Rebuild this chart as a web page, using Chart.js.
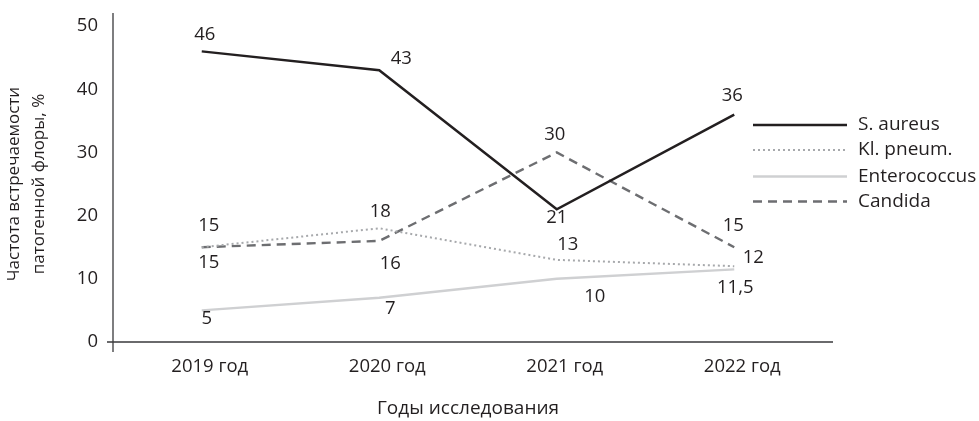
<!DOCTYPE html>
<html>
<head>
<meta charset="utf-8">
<script src="https://cdn.jsdelivr.net/npm/chart.js@4"></script>
<style>
  html, body { margin: 0; padding: 0; background: #fff; }
  #wrap { width: 979px; height: 421px; }
</style>
</head>
<body>
<div id="wrap"><canvas id="c" width="979" height="421"></canvas></div>
<script>
// Frequency of pathogenic flora by study year, %
const years = ['2019 год', '2020 год', '2021 год', '2022 год'];
const sAureus = [46, 43, 21, 36];
const klPneum = [15, 18, 13, 12];
const enterococcus = [5, 7, 10, 11.5];
const candida = [15, 16, 30, 15];
const seriesNames = ['S. aureus', 'Kl. pneum.', 'Enterococcus', 'Candida'];
const yTicks = [0, 10, 20, 30, 40, 50];

const FONT = "'Open Sans', 'DejaVu Sans', sans-serif";
const INK = '#231f20';
const TEXT_SIZE = 18.5;

// where each value label sits relative to its point (dx, dy in px)
const labelShift = [
  [[3, -17], [22, -12], [0, 8], [-2, -19]],
  [[7, -21], [1, -17], [11, -15], [19, -8]],
  [[5, 8], [11, 11], [38, 18], [1, 18]],
  [[7, 16], [11, 23], [-2, -18], [-1, -21]]
];

const styles = [
  { color: '#231f20', width: 2.5, dash: [] },
  { color: '#a7a9ac', width: 2, dash: [2, 3] },
  { color: '#cfd0d2', width: 2.4, dash: [] },
  { color: '#6d6e71', width: 2.4, dash: [9, 6] }
];

const seriesValues = [sAureus, klPneum, enterococcus, candida];

const datasets = seriesValues.map((vals, i) => ({
  label: seriesNames[i],
  data: vals,
  borderColor: styles[i].color,
  borderWidth: styles[i].width,
  borderDash: styles[i].dash,
  borderCapStyle: 'butt',
  pointRadius: 0,
  pointHoverRadius: 0,
  tension: 0,
  fill: false,
  clip: false
}));

const fmt = v => String(v).replace('.', ',');

const decorations = {
  id: 'decorations',
  beforeDatasetsDraw(chart) {
    const { ctx, chartArea, scales } = chart;
    const y0 = scales.y.getPixelForValue(0);
    ctx.save();
    ctx.strokeStyle = '#3a3a3c';
    ctx.lineWidth = 1.3;
    ctx.beginPath();
    ctx.moveTo(chartArea.left, 13);
    ctx.lineTo(chartArea.left, 352);
    ctx.moveTo(chartArea.left - 6, y0);
    ctx.lineTo(833, y0);
    ctx.stroke();
    ctx.restore();
  },
  afterDatasetsDraw(chart) {
    const { ctx } = chart;
    ctx.save();
    ctx.font = TEXT_SIZE + 'px ' + FONT;
    ctx.fillStyle = INK;
    ctx.textAlign = 'center';
    ctx.textBaseline = 'middle';
    chart.data.datasets.forEach((ds, i) => {
      const meta = chart.getDatasetMeta(i);
      meta.data.forEach((pt, j) => {
        const [dx, dy] = labelShift[i][j];
        ctx.fillText(fmt(ds.data[j]), pt.x + dx, pt.y + dy);
      });
    });

    // legend
    const lx0 = 753, lx1 = 847, tx = 858;
    const rows = [125, 150, 176.5, 201.5];
    ctx.font = '19px ' + FONT;
    chart.data.datasets.forEach((ds, i) => {
      const y = rows[i];
      ctx.strokeStyle = ds.borderColor;
      ctx.lineWidth = ds.borderWidth;
      ctx.setLineDash(ds.borderDash);
      ctx.beginPath();
      ctx.moveTo(lx0, y);
      ctx.lineTo(lx1, y);
      ctx.stroke();
      ctx.setLineDash([]);
      ctx.textAlign = 'left';
      ctx.fillStyle = INK;
      ctx.fillText(ds.label, tx, y);
    });
    ctx.restore();
  }
};

new Chart(document.getElementById('c'), {
  type: 'line',
  data: { labels: years, datasets },
  options: {
    responsive: false,
    animation: false,
    devicePixelRatio: 1,
    layout: { padding: { left: 0, top: 25, right: 156, bottom: 0 } },
    plugins: {
      legend: { display: false },
      tooltip: { enabled: false }
    },
    scales: {
      x: {
        type: 'category',
        offset: true,
        grid: { display: false, drawTicks: false },
        border: { display: false },
        ticks: {
          color: INK,
          font: { family: FONT, size: TEXT_SIZE },
          padding: 14,
          labelOffset: 8,
          maxRotation: 0
        },
        title: {
          display: true,
          text: 'Годы исследования',
          color: INK,
          font: { family: FONT, size: 19 },
          padding: { top: 0, bottom: 1 }
        },
        afterFit(scale) { scale.height = 79; }
      },
      y: {
        min: 0,
        max: 50,
        afterBuildTicks(scale) { scale.ticks = yTicks.map(v => ({ value: v })); },
        grid: { display: false, drawTicks: false },
        border: { display: false },
        ticks: {
          color: INK,
          font: { family: FONT, size: TEXT_SIZE },
          padding: 15
        },
        title: {
          display: true,
          text: ['Частота встречаемости', 'патогенной флоры, %'],
          color: INK,
          font: { family: FONT, size: 17, lineHeight: 1.47 },
          padding: { top: 1.5, bottom: 0 }
        },
        afterFit(scale) { scale.width = 113; }
      }
    }
  },
  plugins: [decorations]
});
</script>
</body>
</html>
